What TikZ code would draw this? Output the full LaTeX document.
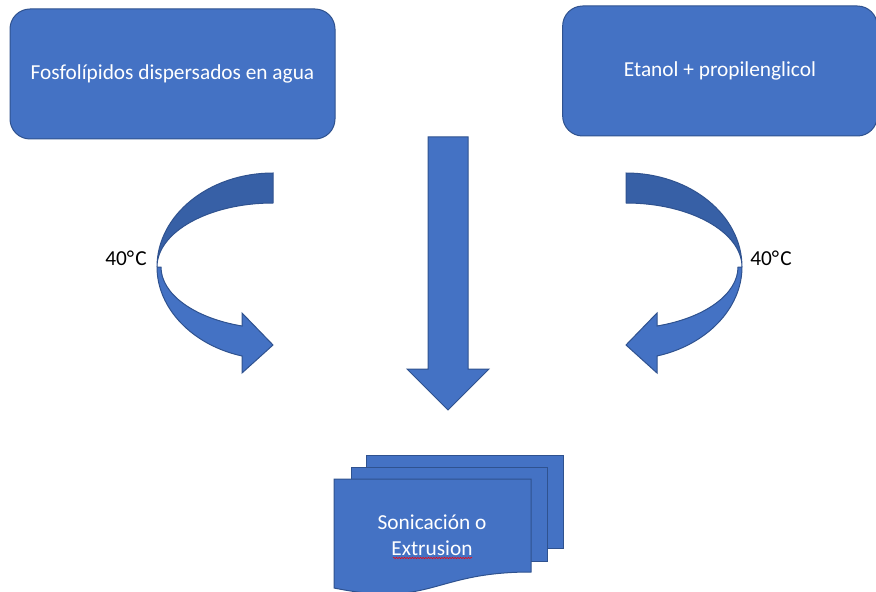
\documentclass[tikz,border=0pt]{standalone}
\usepackage{fontspec}
\setmainfont{Carlito}
\usetikzlibrary{decorations.pathmorphing}

\definecolor{ppblue}{HTML}{4472C4}
\definecolor{ppline}{HTML}{2F528F}
\definecolor{ppdark}{HTML}{3760A6}

\begin{document}
\begin{tikzpicture}[x=0.75pt, y=-0.75pt]
\tikzstyle{box} = [rounded corners=15pt, fill=ppblue, draw=ppline, line width=0.75pt,
  text=white, font=\fontsize{16}{19}\selectfont]
\tikzstyle{blk} = [fill=ppblue, draw=ppline, line width=0.75pt, line join=miter]
\tikzstyle{back} = [fill=ppdark, draw=ppline, line width=0.75pt]
\tikzstyle{lbl} = [font=\fontsize{16}{19}\selectfont, text=black, inner sep=0pt]

\useasboundingbox (0,0) rectangle (876,592);

\node[box, minimum width=243.75pt, minimum height=97.5pt] (fosfo) at (172.5,74) {Fosfolípidos dispersados en agua};
\node[box, minimum width=236pt, minimum height=97.5pt] (etanol) at (720,71) {Etanol + propilenglicol};

% central arrow
\draw[blk] (428,137) -- (468,137) -- (468,369) -- (489,369) -- (448,410) -- (407,369) -- (428,369) -- cycle;

% left curved arrow
\draw[back] (273,173) .. controls (209,173) and (157,215) .. (157,267)
  .. controls (157,232) and (209,203) .. (273,203) -- cycle;
\draw[blk] (157,267) .. controls (157,308) and (192,345) .. (242,356) -- (242,373) -- (273,345)
  -- (242,313) -- (242,326) .. controls (194,318) and (161,294) .. (161,267) -- cycle;

% right curved arrow
\draw[back] (626,173) .. controls (690,173) and (742,215) .. (742,267)
  .. controls (742,232) and (690,203) .. (626,203) -- cycle;
\draw[blk] (742,267) .. controls (742,308) and (707,345) .. (657,356) -- (657,373) -- (626,345)
  -- (657,313) -- (657,326) .. controls (705,318) and (738,294) .. (738,267) -- cycle;

\node[lbl] (tleft) at (126,258) {40°\kern0.8pt C};
\node[lbl] (tright) at (771,258) {40°\kern0.8pt C};

% stacked documents
\draw[blk] (366,455) rectangle (563,548);
\draw[blk] (351,467) rectangle (547,561);
\draw[blk] (334,479) -- (531,479) -- (531,572) .. controls (432,572) and (432,608) .. (334,588) -- cycle;

\node[align=center, text=white, font=\fontsize{16}{19.5}\selectfont] (proceso) at (432,535.5) {Sonicación o\\Extrusion};
\draw[red, line width=0.4pt, decorate, decoration={snake, segment length=2pt, amplitude=0.5pt}]
  (393,558) -- (472,558);
\end{tikzpicture}
\end{document}
